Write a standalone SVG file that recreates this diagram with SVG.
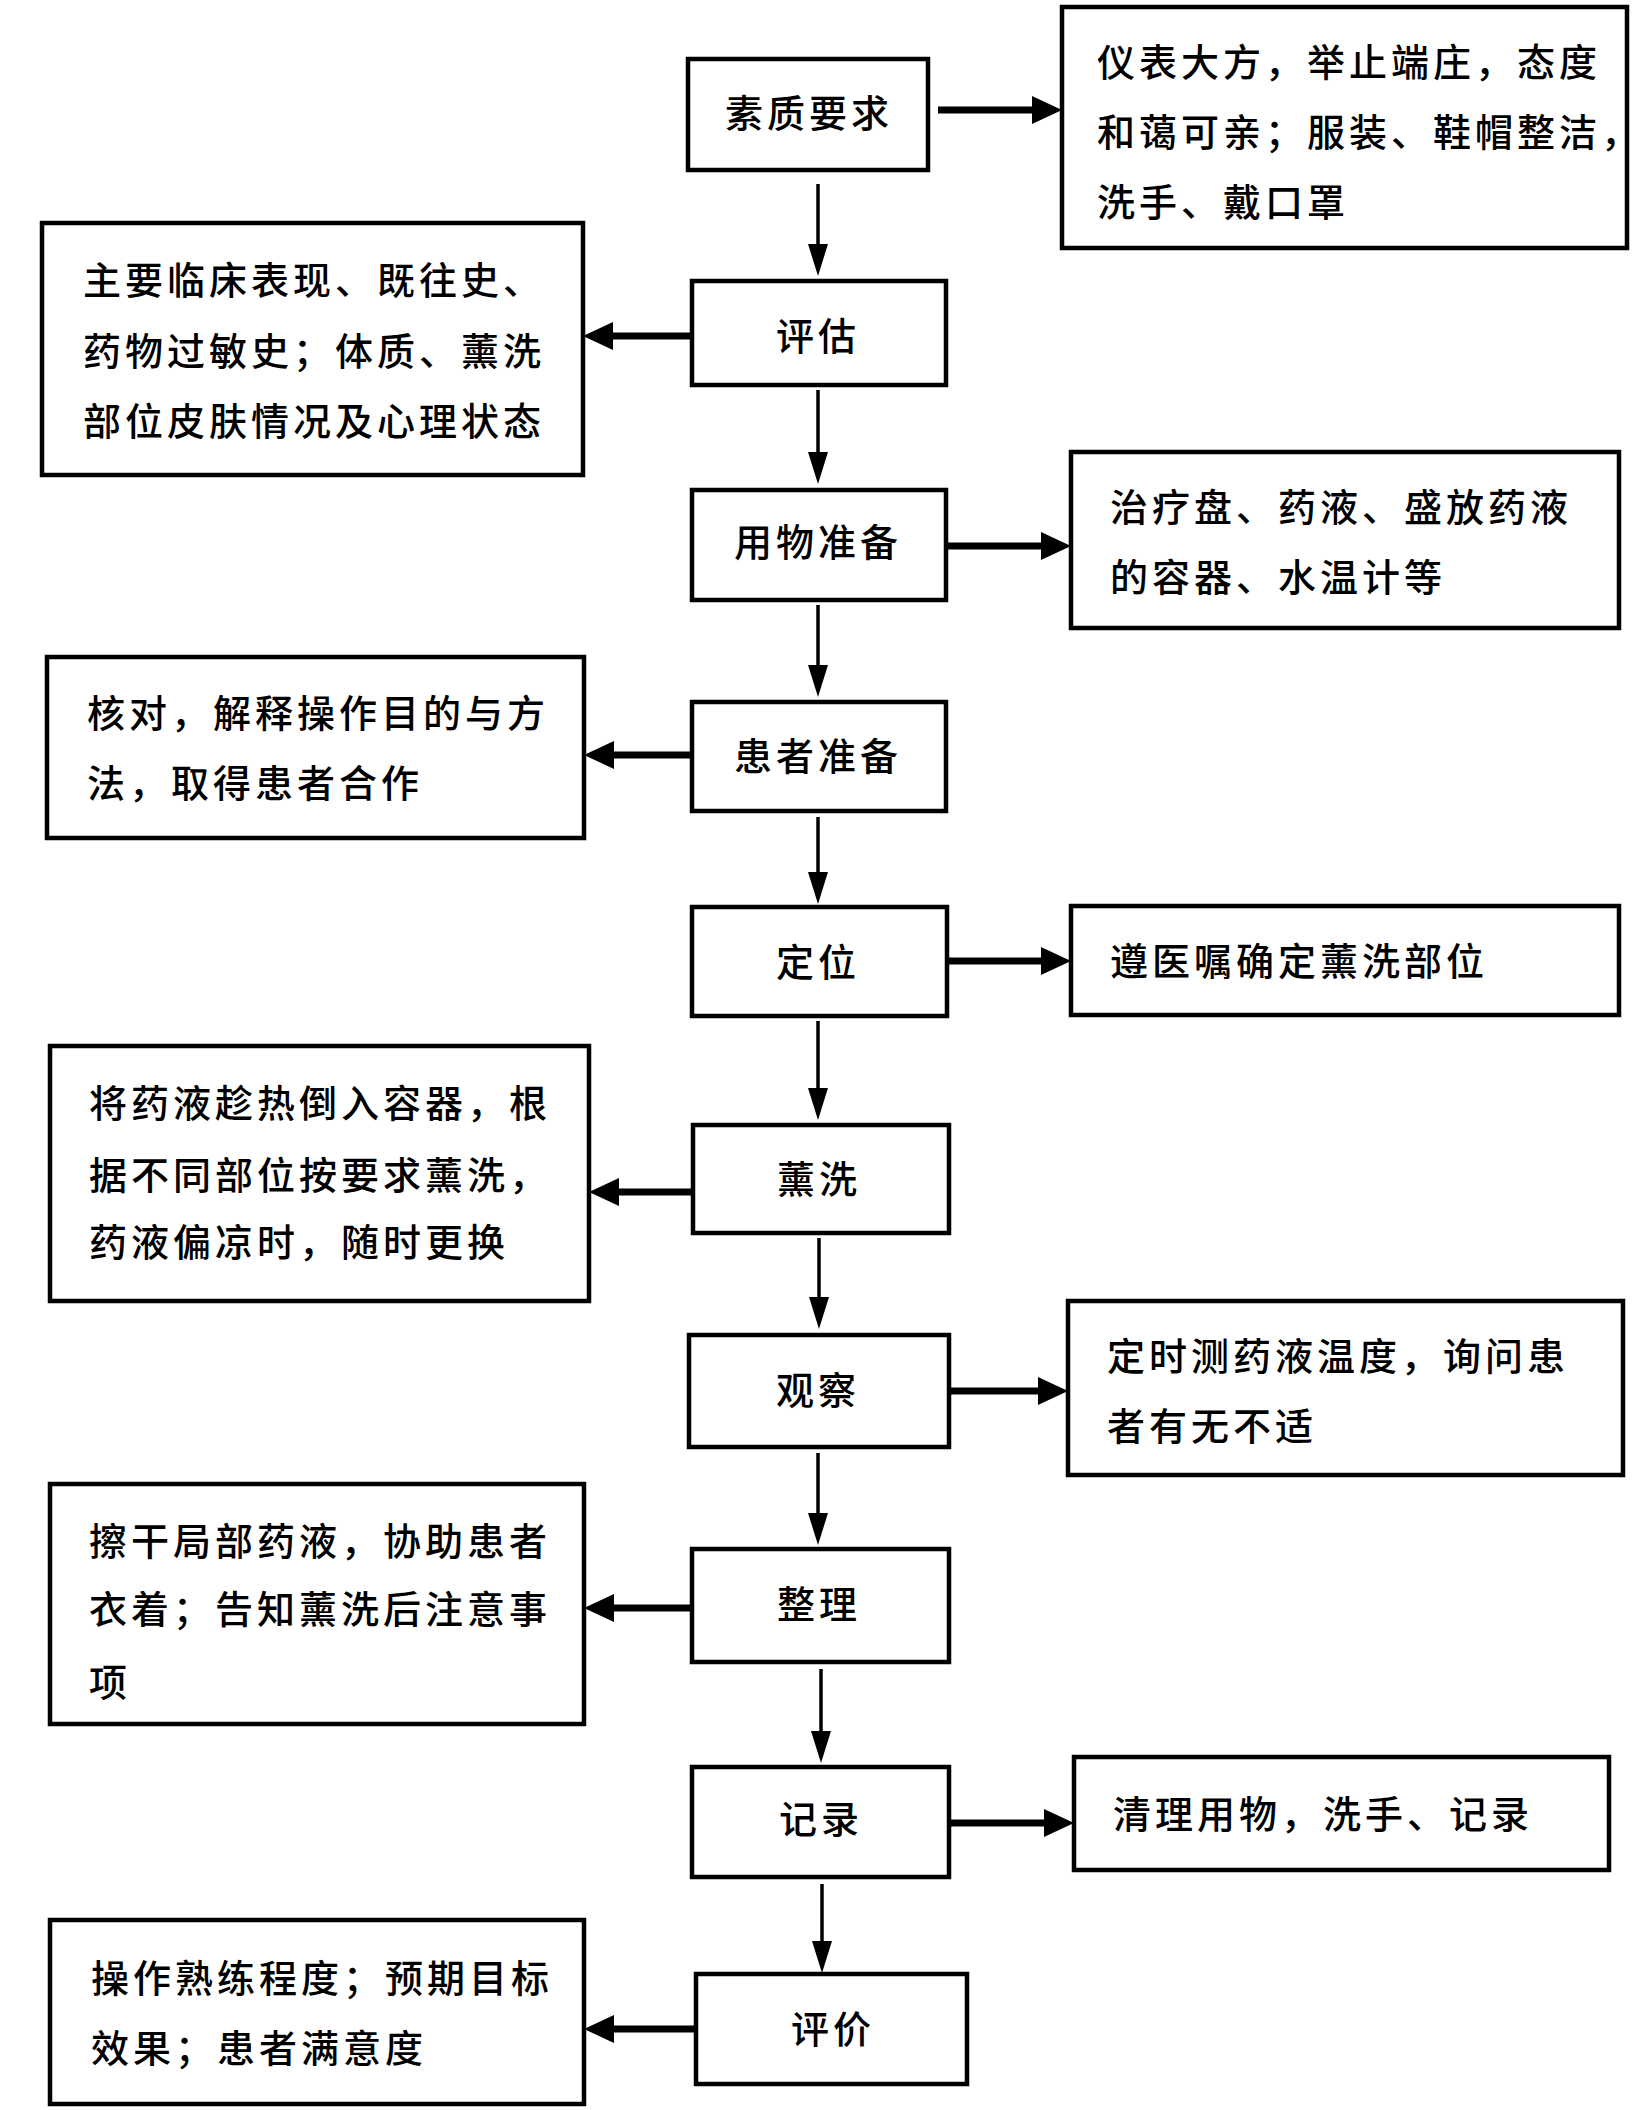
<svg xmlns="http://www.w3.org/2000/svg" width="1647" height="2110" viewBox="0 0 1647 2110">
<style>
.box{fill:#fff;stroke:#000;stroke-width:4.5}
.t{font-family:"Noto Sans CJK SC","Liberation Sans",sans-serif;font-size:38px;font-weight:500;fill:#000;letter-spacing:4px}
.c{text-anchor:middle}
.h{stroke:#000;stroke-width:7;fill:none}
.v{stroke:#000;stroke-width:3.5;fill:none}
</style>
<defs>
<marker id="ah" markerUnits="userSpaceOnUse" markerWidth="32" markerHeight="32" refX="0" refY="0" viewBox="0 -15 32 30" orient="auto" overflow="visible"><path d="M0,-14 L30,0 L0,14 z" fill="#000"/></marker>
<marker id="av" markerUnits="userSpaceOnUse" markerWidth="34" markerHeight="24" refX="0" refY="0" viewBox="0 -11 34 22" orient="auto" overflow="visible"><path d="M0,-10 L32,0 L0,10 z" fill="#000"/></marker>
</defs>
<rect width="1647" height="2110" fill="#fff"/>
<g id="connectors">
<path class="h" d="M938,110 H1032" marker-end="url(#ah)"/>
<path class="v" d="M818,184 V244" marker-end="url(#av)"/>
<path class="h" d="M692,336 H613" marker-end="url(#ah)"/>
<path class="v" d="M818,390 V452" marker-end="url(#av)"/>
<path class="h" d="M946,546 H1041" marker-end="url(#ah)"/>
<path class="v" d="M818,605 V665" marker-end="url(#av)"/>
<path class="h" d="M692,755 H614" marker-end="url(#ah)"/>
<path class="v" d="M818,817 V872" marker-end="url(#av)"/>
<path class="h" d="M947,961 H1041" marker-end="url(#ah)"/>
<path class="v" d="M818,1021 V1088" marker-end="url(#av)"/>
<path class="h" d="M693,1192 H619" marker-end="url(#ah)"/>
<path class="v" d="M819,1238 V1297" marker-end="url(#av)"/>
<path class="h" d="M949,1391 H1038" marker-end="url(#ah)"/>
<path class="v" d="M818,1453 V1513" marker-end="url(#av)"/>
<path class="h" d="M692,1608 H614" marker-end="url(#ah)"/>
<path class="v" d="M821,1669 V1731" marker-end="url(#av)"/>
<path class="h" d="M949,1823 H1044" marker-end="url(#ah)"/>
<path class="v" d="M822,1884 V1941" marker-end="url(#av)"/>
<path class="h" d="M696,2029 H614" marker-end="url(#ah)"/>
</g>
<g id="n1"><rect class="box" x="688" y="59" width="240" height="111"/><text class="t c" x="809" y="127">素质要求</text></g>
<g id="n1r"><rect class="box" x="1062" y="7" width="565" height="241"/><text class="t" x="1097" y="76">仪表大方，举止端庄，态度</text><text class="t" x="1097" y="146">和蔼可亲；服装、鞋帽整洁，</text><text class="t" x="1097" y="216">洗手、戴口罩</text></g>
<g id="n2"><rect class="box" x="692" y="281" width="254" height="104"/><text class="t c" x="818" y="350">评估</text></g>
<g id="n2l"><rect class="box" x="42" y="223" width="541" height="252"/><text class="t" x="83" y="294">主要临床表现、既往史、</text><text class="t" x="83" y="365">药物过敏史；体质、薰洗</text><text class="t" x="83" y="435">部位皮肤情况及心理状态</text></g>
<g id="n3"><rect class="box" x="692" y="490" width="254" height="110"/><text class="t c" x="818" y="556">用物准备</text></g>
<g id="n3r"><rect class="box" x="1071" y="452" width="548" height="176"/><text class="t" x="1110" y="521">治疗盘、药液、盛放药液</text><text class="t" x="1110" y="591">的容器、水温计等</text></g>
<g id="n4"><rect class="box" x="692" y="702" width="254" height="109"/><text class="t c" x="818" y="770">患者准备</text></g>
<g id="n4l"><rect class="box" x="47" y="657" width="537" height="181"/><text class="t" x="87" y="727">核对，解释操作目的与方</text><text class="t" x="87" y="797">法，取得患者合作</text></g>
<g id="n5"><rect class="box" x="692" y="907" width="255" height="109"/><text class="t c" x="818" y="976">定位</text></g>
<g id="n5r"><rect class="box" x="1071" y="906" width="548" height="109"/><text class="t" x="1110" y="975">遵医嘱确定薰洗部位</text></g>
<g id="n6"><rect class="box" x="693" y="1125" width="256" height="108"/><text class="t c" x="819" y="1193">薰洗</text></g>
<g id="n6l"><rect class="box" x="50" y="1046" width="539" height="255"/><text class="t" x="89" y="1117">将药液趁热倒入容器，根</text><text class="t" x="89" y="1189">据不同部位按要求薰洗，</text><text class="t" x="89" y="1256">药液偏凉时，随时更换</text></g>
<g id="n7"><rect class="box" x="689" y="1335" width="260" height="112"/><text class="t c" x="818" y="1404">观察</text></g>
<g id="n7r"><rect class="box" x="1068" y="1301" width="555" height="174"/><text class="t" x="1107" y="1370">定时测药液温度，询问患</text><text class="t" x="1107" y="1440">者有无不适</text></g>
<g id="n8"><rect class="box" x="692" y="1549" width="257" height="113"/><text class="t c" x="819" y="1618">整理</text></g>
<g id="n8l"><rect class="box" x="50" y="1484" width="534" height="240"/><text class="t" x="89" y="1555">擦干局部药液，协助患者</text><text class="t" x="89" y="1623">衣着；告知薰洗后注意事</text><text class="t" x="89" y="1696">项</text></g>
<g id="n9"><rect class="box" x="692" y="1767" width="257" height="110"/><text class="t c" x="821" y="1833">记录</text></g>
<g id="n9r"><rect class="box" x="1074" y="1757" width="535" height="113"/><text class="t" x="1113" y="1828">清理用物，洗手、记录</text></g>
<g id="n10"><rect class="box" x="696" y="1974" width="271" height="110"/><text class="t c" x="833" y="2043">评价</text></g>
<g id="n10l"><rect class="box" x="50" y="1920" width="534" height="184"/><text class="t" x="91" y="1992">操作熟练程度；预期目标</text><text class="t" x="91" y="2062">效果；患者满意度</text></g>
</svg>
